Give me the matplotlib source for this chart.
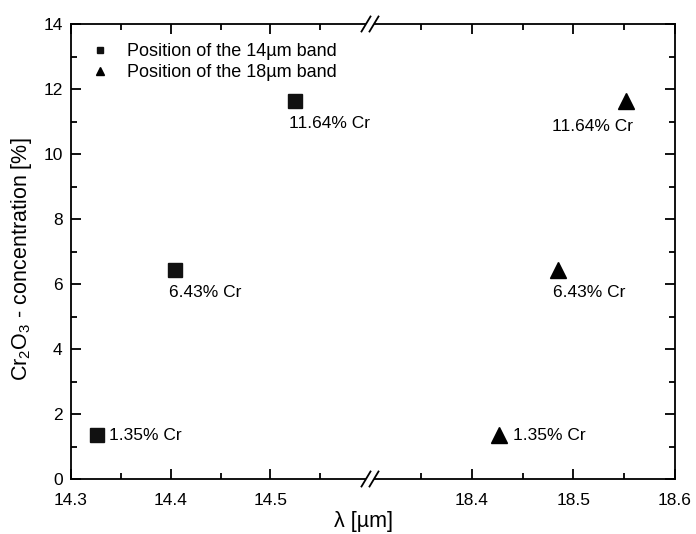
import matplotlib
matplotlib.use("Agg")
import matplotlib.pyplot as plt
from matplotlib.patches import Polygon
from matplotlib.lines import Line2D

plt.rcParams['font.family'] = ['Liberation Sans', 'DejaVu Sans']
plt.rcParams['mathtext.default'] = 'regular'

# data
conc = [1.35, 6.43, 11.64]                 # Cr2O3 concentration [%]
band14_x = [14.326, 14.404, 14.525]        # position of the 14um band
band18_x = [18.427, 18.485, 18.552]        # position of the 18um band
point_labels = ['1.35% Cr', '6.43% Cr', '11.64% Cr']
left_xlim = (14.3, 14.6)
right_xlim = (18.3, 18.6)
left_xticks = [14.3, 14.4, 14.5]
right_xticks = [18.4, 18.5, 18.6]
yticks = [0, 2, 4, 6, 8, 10, 12, 14]

W, H = 696, 534


def fx(px):
    return px / W


def fy(py):
    return 1 - py / H


fig = plt.figure(figsize=(W / 100, H / 100), dpi=100)
ax1 = fig.add_axes([fx(71), fy(479), (370 - 71) / W, (479 - 24) / H])
ax2 = fig.add_axes([fx(370), fy(479), (675 - 370) / W, (479 - 24) / H], sharey=ax1)

lw = 1.3
for ax in (ax1, ax2):
    for s in ax.spines.values():
        s.set_linewidth(lw)
    ax.tick_params(which='both', direction='in', top=True, width=lw, labelsize=12.5)
    ax.tick_params(which='major', length=7)
    ax.tick_params(which='minor', length=4)
    ax.tick_params(axis='x', which='both', pad=10)
    ax.tick_params(axis='y', which='both', pad=6)
ax1.spines['right'].set_visible(False)
ax2.spines['left'].set_visible(False)
ax1.tick_params(which='both', right=False)
ax2.tick_params(which='both', left=False, labelleft=False, right=True)

ax1.set_xlim(*left_xlim)
ax2.set_xlim(*right_xlim)
ax1.set_xticks(left_xticks)
ax1.set_xticks([14.35, 14.45, 14.55], minor=True)
ax2.set_xticks(right_xticks)
ax2.set_xticks([18.35, 18.45, 18.55], minor=True)
ax1.set_ylim(0, 14)
ax1.set_yticks(yticks)
ax1.set_yticks(range(1, 14, 2), minor=True)
for ax in (ax1, ax2):
    ax.xaxis.set_major_formatter(plt.FormatStrFormatter('%.1f'))
    ax.yaxis.set_major_formatter(plt.FormatStrFormatter('%d'))

ax1.plot(band14_x, conc, 's', color='#111111', ms=10, clip_on=False)
ax2.plot(band18_x, conc, '^', color='black', ms=12, clip_on=False)

fs = 12.5
# labels next to the squares
ax1.annotate(point_labels[0], (band14_x[0], conc[0]), xytext=(12, 0),
             textcoords='offset pixels', ha='left', va='center', fontsize=fs)
ax1.annotate(point_labels[1], (band14_x[1], conc[1]), xytext=(-6, -15),
             textcoords='offset pixels', ha='left', va='top', fontsize=fs)
ax1.annotate(point_labels[2], (band14_x[2], conc[2]), xytext=(-6, -15),
             textcoords='offset pixels', ha='left', va='top', fontsize=fs)
# labels next to the triangles
ax2.annotate(point_labels[0], (band18_x[0], conc[0]), xytext=(14, 0),
             textcoords='offset pixels', ha='left', va='center', fontsize=fs)
ax2.annotate(point_labels[1], (band18_x[1], conc[1]), xytext=(-5, -15),
             textcoords='offset pixels', ha='left', va='top', fontsize=fs)
ax2.annotate(point_labels[2], (band18_x[2], conc[2]), xytext=(7, -18),
             textcoords='offset pixels', ha='right', va='top', fontsize=fs)

handles = [Line2D([], [], ls='none', marker='s', color='#111111', ms=5),
           Line2D([], [], ls='none', marker='^', color='black', ms=6)]
fig.legend(handles, ['Position of the 14\u00b5m band', 'Position of the 18\u00b5m band'],
           loc='upper left', bbox_to_anchor=(fx(91), fy(43)), frameon=False,
           fontsize=13, handlelength=1.0, handletextpad=1.0, borderpad=0,
           borderaxespad=0, labelspacing=0.22)

fig.text(fx(22), fy(259), 'Cr$_2$O$_3$ - concentration [%]', rotation=90,
         ha='center', va='center', fontsize=15.5)
fig.text(fx(363), fy(521), '\u03bb [\u00b5m]', ha='center', va='center', fontsize=15.5)

# axis break marks on bottom and top spines
for yb in (479, 24):
    gap = Polygon([(fx(362), fy(yb + 7)), (fx(370), fy(yb - 7)),
                   (fx(378), fy(yb - 7)), (fx(370), fy(yb + 7))],
                  closed=True, facecolor='white', edgecolor='none',
                  transform=fig.transFigure, zorder=5)
    fig.patches.append(gap)
    for xc in (366, 374):
        fig.add_artist(Line2D([fx(xc - 4.5), fx(xc + 4.5)], [fy(yb + 7.5), fy(yb - 7.5)],
                              color='black', lw=lw, transform=fig.transFigure, zorder=6))

fig.savefig('out.png', dpi=100)
